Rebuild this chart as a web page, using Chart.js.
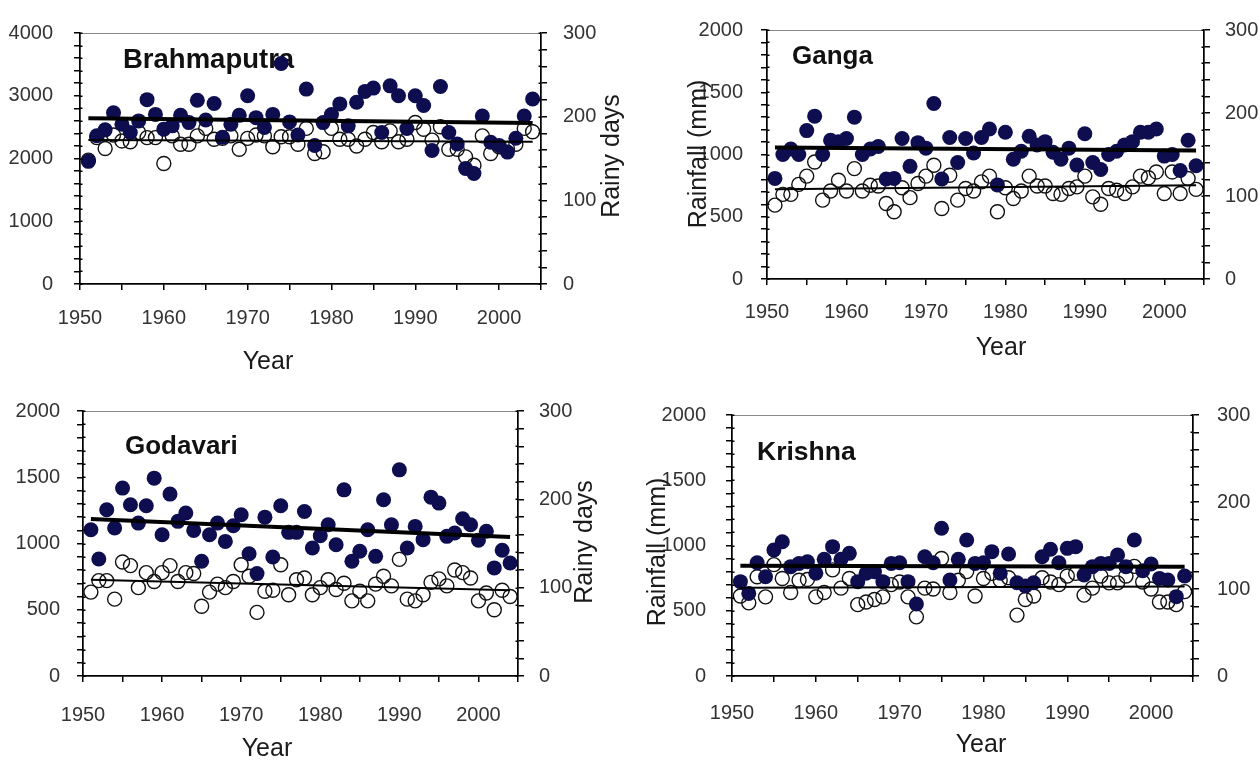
<!DOCTYPE html>
<html>
<head>
<meta charset="utf-8">
<script src="https://cdn.jsdelivr.net/npm/chart.js@4.4.1/dist/chart.umd.min.js"></script>
<style>
html,body{margin:0;padding:0;background:#fff;}
body{width:1260px;height:760px;position:relative;overflow:hidden;}
canvas{position:absolute;}
</style>
</head>
<body>
<canvas id="c1" width="640" height="380" style="left:0;top:0"></canvas>
<canvas id="c2" width="620" height="380" style="left:640px;top:0"></canvas>
<canvas id="c3" width="640" height="380" style="left:0;top:380px"></canvas>
<canvas id="c4" width="620" height="380" style="left:640px;top:380px"></canvas>
<script>
// ---------------- DATA ----------------
const years = [1951,1952,1953,1954,1955,1956,1957,1958,1959,1960,
               1961,1962,1963,1964,1965,1966,1967,1968,1969,1970,
               1971,1972,1973,1974,1975,1976,1977,1978,1979,1980,
               1981,1982,1983,1984,1985,1986,1987,1988,1989,1990,
               1991,1992,1993,1994,1995,1996,1997,1998,1999,2000,
               2001,2002,2003,2004];
const xTickValues = [1950,1960,1970,1980,1990,2000];

// Brahmaputra
const brahmaputraRain = [1955,2363,2457,2729,2546,2415,2599,2938,2703,2468,
                         2520,2688,2572,2928,2614,2876,2337,2546,2688,3001,
                         2651,2494,2703,3514,2583,2374,3106,2207,2572,2700,
                         2870,2520,2897,3069,3122,2415,3158,3001,2478,3001,
                         2844,2128,3148,2415,2233,1841,1762,2677,2259,2207,
                         2102,2322,2677,2949];
const brahmaputraDays = [148,175,162,178,171,170,181,175,175,144,
                         177,167,167,177,186,173,174,177,161,174,
                         178,177,164,176,176,167,186,156,158,186,
                         173,173,165,173,181,170,183,170,173,193,
                         185,172,188,161,161,152,142,177,156,164,
                         162,167,186,182];
const brahmaputraRainTrend = [2640, 2565];
const brahmaputraDaysTrend = [172, 170];

// Ganga
const gangaRain = [808,1000,1044,1000,1192,1308,1000,1115,1103,1128,
                   1300,1000,1044,1064,803,808,1128,905,1095,1051,
                   1410,803,1136,936,1128,1013,1136,1205,756,1179,
                   962,1026,1146,1077,1103,1018,962,1051,915,1167,
                   936,879,1000,1026,1077,1103,1179,1179,1205,987,
                   1000,872,1115,910];
const gangaDays = [89,102,102,114,124,141,95,106,119,106,
                   133,106,113,112,91,81,110,98,115,124,
                   137,85,125,95,109,106,117,124,81,110,
                   97,106,124,112,112,103,102,109,111,124,
                   99,90,109,107,103,111,124,122,129,103,
                   129,103,121,108];
const gangaRainTrend = [1056, 1033];
const gangaDaysTrend = [108, 113];

// Godavari
const godavariRain = [1104,883,1255,1117,1418,1292,1154,1285,1493,1066,
                      1373,1167,1230,1099,866,1066,1154,1016,1134,1217,
                      923,773,1199,898,1285,1084,1084,1242,966,1059,
                      1142,991,1405,866,941,1104,903,1330,1142,1556,
                      966,1129,1029,1350,1305,1054,1079,1187,1142,1024,
                      1092,816,949,853];
const godavariDays = [95,108,108,87,129,125,100,117,107,117,
                      125,107,117,116,79,95,104,100,107,126,
                      113,72,96,97,126,92,109,111,92,100,
                      109,98,105,85,96,85,104,113,102,132,
                      87,85,92,106,110,102,120,117,111,85,
                      94,75,97,90];
const godavariRainTrend = [1184, 1049];
const godavariDaysTrend = [109, 97];

// Krishna
const krishnaRain = [723,633,868,761,966,1029,838,863,876,787,
                     894,991,894,940,723,787,799,723,863,868,
                     723,552,914,868,1132,736,894,1042,863,868,
                     953,787,935,715,690,715,914,971,868,978,
                     991,774,838,863,863,927,838,1042,807,858,
                     748,736,608,766];
const krishnaDays = [92,84,114,91,128,112,96,110,111,91,
                     96,122,101,112,82,85,88,91,105,108,
                     91,68,101,100,135,96,110,120,92,112,
                     118,110,113,70,88,92,113,108,105,115,
                     118,93,101,115,107,107,115,126,108,100,
                     85,85,82,97];
const krishnaRainTrend = [845, 838];
const krishnaDaysTrend = [101.5, 103];

const trendYears = [1951, 2004];

// ---------------- STYLE ----------------
const FONT = "'Liberation Sans', Arial, Helvetica, sans-serif";
const NAVY = '#0d0d4f';

const decor = {
  id: 'decor',
  beforeDraw(chart, args, o) {
    const {ctx, chartArea: a} = chart;
    ctx.save();
    ctx.strokeStyle = '#8a8a8a';
    ctx.lineWidth = 1;
    ctx.strokeRect(a.left + 0.5, a.top + 0.5, a.right - a.left, a.bottom - a.top);
    ctx.restore();
  },
  beforeDatasetsDraw(chart, args, o) {
    const ctx = chart.ctx;
    ctx.save();
    ctx.fillStyle = '#111';
    ctx.font = 'bold ' + o.title.size + 'px ' + FONT;
    ctx.textAlign = 'left';
    ctx.textBaseline = 'middle';
    ctx.fillText(o.title.text, o.title.x, o.title.y);
    ctx.restore();
  },
  afterDatasetsDraw(chart) {
    // short inner part of the y-axis tick marks (they cross the axis line)
    const ctx = chart.ctx;
    ctx.save();
    ctx.strokeStyle = '#000';
    ctx.lineWidth = 1.5;
    for (const id of ['y', 'y2']) {
      const s = chart.scales[id];
      const xAxis = id === 'y' ? chart.chartArea.left : chart.chartArea.right;
      const dir = id === 'y' ? 1 : -1;
      s.ticks.forEach(t => {
        const py = Math.round(s.getPixelForValue(t.value)) + 0.25;
        ctx.beginPath();
        ctx.moveTo(xAxis, py);
        ctx.lineTo(xAxis + dir * 2.5, py);
        ctx.stroke();
      });
    }
    ctx.restore();
  },
  afterDraw(chart, args, o) {
    const ctx = chart.ctx;
    ctx.save();
    ctx.fillStyle = '#1a1a1a';
    ctx.font = '25px ' + FONT;
    ctx.textAlign = 'center';
    ctx.textBaseline = 'middle';
    for (const t of o.labels) {
      ctx.save();
      ctx.translate(t.x, t.y);
      if (t.rotate) ctx.rotate(-Math.PI / 2);
      ctx.fillText(t.text, 0, 0);
      ctx.restore();
    }
    ctx.restore();
  }
};

function pts(xs, ys) { return xs.map((x, i) => ({x: x, y: ys[i]})); }

function makePanel(id, p) {
  const ox = p.offset[0], oy = p.offset[1];
  const tickFont = {family: FONT, size: 20};
  const axisCommon = {
    grid: {drawOnChartArea: false, drawTicks: true, tickLength: 6, color: '#000', lineWidth: 1.5},
    border: {display: true, color: '#000', width: 1.5}
  };
  new Chart(document.getElementById(id), {
    type: 'scatter',
    data: {
      datasets: [
        {type: 'line', data: pts(trendYears, p.rainTrend), yAxisID: 'y', borderColor: '#000',
         borderWidth: 4, pointRadius: 0, fill: false, order: 0},
        {type: 'line', data: pts(trendYears, p.daysTrend), yAxisID: 'y2', borderColor: '#000',
         borderWidth: 2, pointRadius: 0, fill: false, order: 0},
        {data: pts(years, p.rain), yAxisID: 'y', pointRadius: 7.5, pointBackgroundColor: NAVY,
         pointBorderColor: NAVY, pointBorderWidth: 0, order: 1},
        {data: pts(years, p.days), yAxisID: 'y2', pointRadius: 7, pointBackgroundColor: 'rgba(255,255,255,0)',
         pointBorderColor: '#111', pointBorderWidth: 1.4, order: 2}
      ]
    },
    options: {
      responsive: false,
      animation: false,
      events: [],
      layout: {padding: {top: p.plot.top - oy, left: 0, right: 0, bottom: 0}},
      plugins: {
        legend: {display: false},
        tooltip: {enabled: false},
        decor: {
          title: {text: p.name, size: p.titleSize, x: p.titlePos[0] - ox, y: p.titlePos[1] - oy},
          labels: p.labels.map(l => ({text: l.text, x: l.x - ox, y: l.y - oy, rotate: l.rotate}))
        }
      },
      scales: {
        x: Object.assign({}, axisCommon, {
          type: 'linear', min: 1950, max: 2005,
          ticks: {stepSize: 5, autoSkip: false, maxRotation: 0, maxTicksLimit: 100, padding: p.xPad,
                  font: tickFont, color: '#333',
                  callback: v => xTickValues.includes(v) ? String(v) : ''},
          afterFit: s => { s.height = (oy + 380) - p.plot.bottom; }
        }),
        y: Object.assign({}, axisCommon, {
          position: 'left', min: 0, max: p.leftMax,
          ticks: {stepSize: p.leftMinor, autoSkip: false, maxTicksLimit: 100, padding: p.yLPad,
                  font: tickFont, color: '#333',
                  callback: v => (v % p.leftMajor === 0) ? String(v) : ''},
          afterFit: s => { s.width = p.plot.left - ox; }
        }),
        y2: Object.assign({}, axisCommon, {
          position: 'right', min: 0, max: 300,
          ticks: {stepSize: 20, autoSkip: false, maxTicksLimit: 100, padding: p.yRPad,
                  font: tickFont, color: '#333',
                  callback: v => (v % 100 === 0) ? String(v) : ''},
          afterFit: s => { s.width = (ox + p.width) - p.plot.right; }
        })
      }
    },
    plugins: [decor]
  });
}

makePanel('c1', {
  offset: [0, 0], width: 640, name: 'Brahmaputra', titleSize: 27.5, titlePos: [123, 60],
  plot: {left: 80, right: 541, top: 29, bottom: 284},
  leftMax: 4000, leftMinor: 200, leftMajor: 1000,
  xPad: 16, yLPad: 21, yRPad: 16,
  rain: brahmaputraRain, days: brahmaputraDays,
  rainTrend: brahmaputraRainTrend, daysTrend: brahmaputraDaysTrend,
  labels: [{text: 'Rainy days', x: 612, y: 156, rotate: true}, {text: 'Year', x: 268, y: 362}]
});
makePanel('c2', {
  offset: [640, 0], width: 620, name: 'Ganga', titleSize: 26, titlePos: [792, 57],
  plot: {left: 767, right: 1204, top: 19, bottom: 279},
  leftMax: 2000, leftMinor: 100, leftMajor: 500,
  xPad: 15, yLPad: 18, yRPad: 15,
  rain: gangaRain, days: gangaDays,
  rainTrend: gangaRainTrend, daysTrend: gangaDaysTrend,
  labels: [{text: 'Rainfall (mm)', x: 699, y: 154, rotate: true}, {text: 'Year', x: 1001, y: 348}]
});
makePanel('c3', {
  offset: [0, 380], width: 640, name: 'Godavari', titleSize: 26, titlePos: [125, 447],
  plot: {left: 83, right: 518, top: 411, bottom: 676},
  leftMax: 2000, leftMinor: 100, leftMajor: 500,
  xPad: 21, yLPad: 17, yRPad: 15,
  rain: godavariRain, days: godavariDays,
  rainTrend: godavariRainTrend, daysTrend: godavariDaysTrend,
  labels: [{text: 'Rainy days', x: 585, y: 542, rotate: true}, {text: 'Year', x: 267, y: 749}]
});
makePanel('c4', {
  offset: [640, 380], width: 620, name: 'Krishna', titleSize: 26.5, titlePos: [757, 453],
  plot: {left: 732, right: 1193, top: 415, bottom: 676},
  leftMax: 2000, leftMinor: 100, leftMajor: 500,
  xPad: 19, yLPad: 20, yRPad: 18,
  rain: krishnaRain, days: krishnaDays,
  rainTrend: krishnaRainTrend, daysTrend: krishnaDaysTrend,
  labels: [{text: 'Rainfall (mm)', x: 658, y: 552, rotate: true}, {text: 'Year', x: 981, y: 745}]
});
</script>
</body>
</html>
